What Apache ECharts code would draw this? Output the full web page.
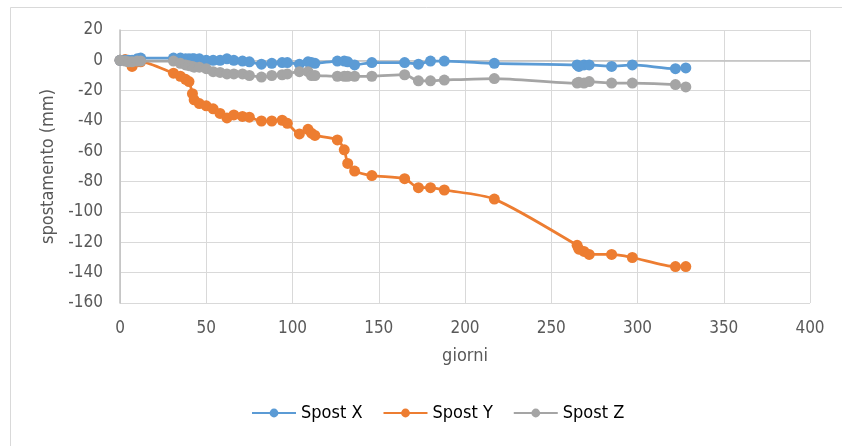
<!DOCTYPE html>
<html>
<head>
<meta charset="utf-8">
<script src="https://cdn.jsdelivr.net/npm/echarts@6/dist/echarts.min.js"></script>
<style>html,body{margin:0;padding:0;background:#fff}#c{width:842px;height:446px}</style>
</head>
<body>
<div id="c"></div>
<script>
const days = [0, 3, 5, 7, 10, 12, 31, 35, 38, 40, 42, 43, 46, 50, 54, 58, 62, 66, 71, 75, 82, 88, 94, 97, 104, 109, 111, 113, 126, 130, 132, 136, 146, 165, 173, 180, 188, 217, 265, 266, 269, 272, 285, 297, 322, 328];
const spostX = [0, 0, 0, 0, 1, 1.5, 1.5, 1.5, 1, 1, 1, 1, 1, 0, 0, 0, 1, 0, -0.5, -1, -2.5, -2, -1.5, -1.5, -2.5, -1, -1.5, -2, -0.5, -0.5, -1, -3, -1.5, -1.5, -2.5, -0.5, -0.5, -2, -3, -4, -3, -3, -4, -3, -5.5, -5];
const spostY = [0, 0.5, -1, -4, -1, -1, -8.5, -10.5, -12.5, -14, -22, -26, -28.5, -30, -32, -35, -38, -36, -37, -37.5, -40, -40, -39.5, -41.5, -48.5, -45.5, -48, -49.5, -52.5, -59, -68, -73, -76, -78, -84, -84, -85.5, -91.5, -122, -124.5, -126, -128, -128, -130, -136, -136];
const spostZ = [0, -0.5, -1, -1, -0.5, -0.5, -0.5, -2, -3, -3.5, -4, -4.5, -4.5, -5.5, -7.5, -8, -9, -9, -9, -10, -11, -10, -9.5, -9, -7.5, -7.5, -10, -10, -10.5, -10.5, -10.5, -10.5, -10.5, -9.5, -13.5, -13.5, -13, -12, -15, -14.5, -15, -14, -15, -15, -16, -17.5];
const seriesNames = ['Spost X', 'Spost Y', 'Spost Z'];
const colors = ['#5B9BD5', '#ED7D31', '#A5A5A5'];
const xTitle = 'giorni';
const yTitle = 'spostamento (mm)';

const font = "'DejaVu Sans Condensed', 'Liberation Sans Narrow', 'Roboto', sans-serif";
const pair = (vals) => days.map((d, i) => [d, vals[i]]);
const all = [spostX, spostY, spostZ];

const chart = echarts.init(document.getElementById('c'), null, {renderer: 'canvas'});
chart.setOption({
  animation: false,
  backgroundColor: '#fff',
  color: colors,
  graphic: [{
    type: 'rect', shape: {x: 10.5, y: 7.5, width: 900, height: 500},
    style: {fill: 'none', stroke: '#D9D9D9', lineWidth: 1}, silent: true, z: -1
  }],
  grid: {left: 120, right: 32, top: 30, bottom: 143},
  legend: {
    bottom: 19, left: 246,
    itemWidth: 44, itemHeight: 11, itemGap: 20,
    textStyle: {fontFamily: font, fontSize: 18, color: '#000'},
    data: seriesNames
  },
  xAxis: {
    type: 'value', min: 0, max: 400, interval: 50,
    name: xTitle, nameLocation: 'middle', nameGap: 44,
    nameTextStyle: {fontFamily: font, fontSize: 18, color: '#595959'},
    axisLine: {show: false, onZero: false},
    axisTick: {show: false},
    axisLabel: {fontFamily: font, fontSize: 17, color: '#595959', margin: 17},
    splitLine: {show: true, lineStyle: {color: '#D9D9D9', width: 1}}
  },
  yAxis: {
    type: 'value', min: -160, max: 20, interval: 20,
    name: yTitle, nameLocation: 'middle', nameGap: 62,
    nameTextStyle: {fontFamily: font, fontSize: 18, color: '#595959'},
    axisLine: {show: true, onZero: false, lineStyle: {color: '#BFBFBF', width: 1.5}},
    axisTick: {show: false},
    axisLabel: {fontFamily: font, fontSize: 17, color: '#595959', margin: 17},
    splitLine: {show: true, lineStyle: {color: '#D9D9D9', width: 1}}
  },
  series: seriesNames.map((n, k) => ({
    name: n, type: 'line', data: pair(all[k]),
    smooth: 0.25,
    symbol: 'circle', symbolSize: 11,
    lineStyle: {width: 2.75, color: colors[k]},
    itemStyle: {color: colors[k]},
    z: k === 1 ? 2 : (k === 0 ? 3 : 4),
    markLine: k === 0 ? {
      silent: true, symbol: 'none', label: {show: false},
      lineStyle: {color: '#BFBFBF', width: 1.5, type: 'solid'},
      data: [{yAxis: 0}], z: 1
    } : undefined
  }))
});
</script>
</body>
</html>
